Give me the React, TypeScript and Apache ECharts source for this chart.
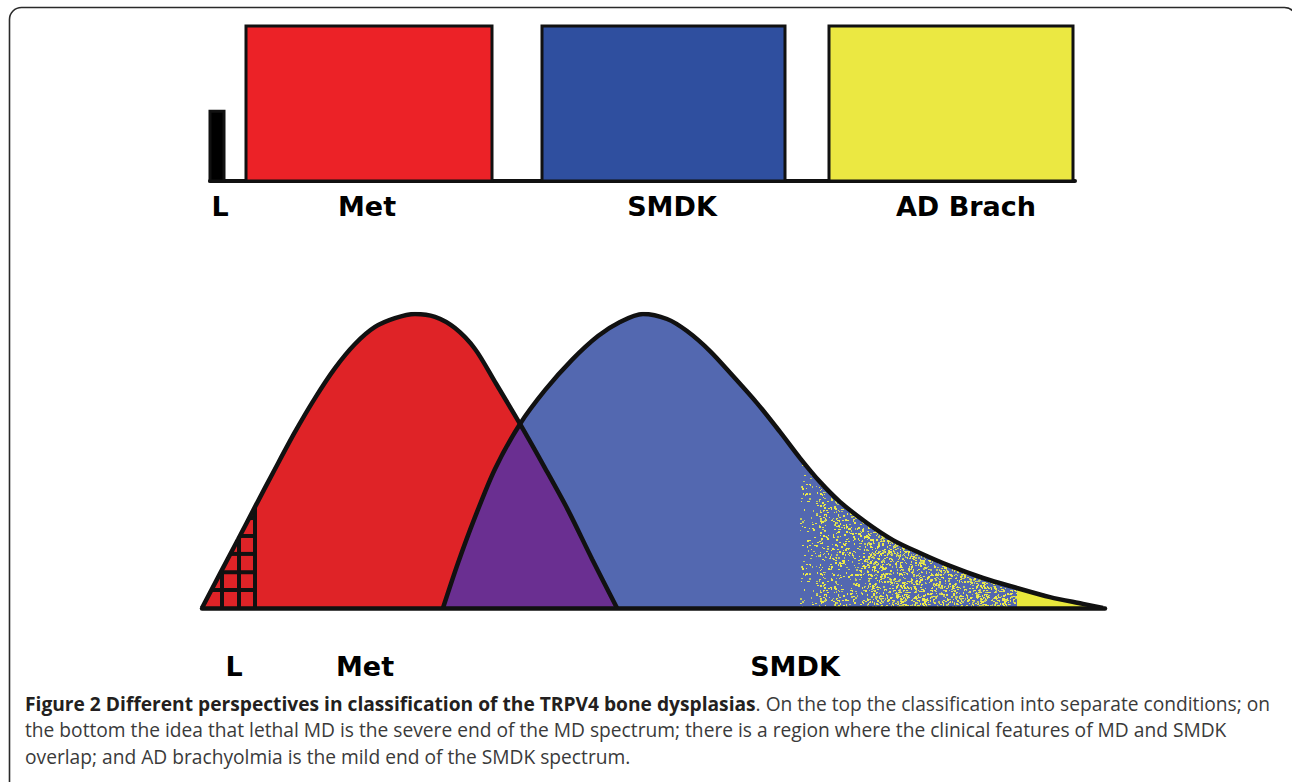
import React, { useEffect, useRef } from "react";
import * as echarts from "echarts";

// ---- Top panel: separate conditions (x in severity units, y in relative height) ----
const topCategories = ["L", "Met", "SMDK", "AD Brach"];
const topStart = [0, 3.6, 33.2, 61.9];
const topEnd = [1.4, 28.2, 57.5, 86.3];
const topHeight = [45, 100, 100, 100];
const topLabelX = [1.0, 15.7, 46.2, 75.6];
const topColors = ["#000000", "#EC2227", "#2F4F9F", "#EBE842"];

// ---- Bottom panel: spectra ----
const bottomLabels = ["L", "Met", "SMDK"];
const bottomLabelX = [3.2, 16.3, 59.3];

const metX = [0, 1.8, 3.6, 5.3, 7.3, 9.3, 11.3, 13.3, 15.3, 17.3, 19.3, 21.3, 23.3, 25.3, 27.3, 29.3, 31.8, 34.3, 36.6, 39.0, 41.5];
const metY = [0, 11.7, 23.3, 34.4, 47.3, 59.9, 71.4, 81.6, 89.8, 95.6, 98.6, 100, 99.0, 95.2, 88.1, 76.9, 62.6, 47.6, 33.3, 16.7, 0];

const smdkX = [24.1, 25.6, 27.3, 29.3, 31.8, 34.3, 37.0, 39.6, 41.8, 44.1, 46.5, 48.5, 50.8, 53.1, 55.5, 57.8, 59.8, 61.8, 63.8, 66.5, 69.1, 71.8, 74.8, 78.1, 81.5, 84.8, 88.1, 90.1];
const smdkY = [0, 15.3, 30.9, 47.3, 62.6, 74.1, 84.4, 92.5, 97.3, 100, 98.3, 94.2, 87.4, 78.9, 69.7, 59.9, 51.0, 42.9, 36.1, 28.9, 23.1, 18.7, 14.3, 10.2, 6.8, 3.7, 1.4, 0];

const overlapCrossX = 31.8; // where the MD and SMDK curves meet
const lethalEndX = 5.3; // end of the lethal (hatched) region
const hatchColumns = [2.0, 3.7, 5.3];
const hatchRows = [6.1, 12.2, 18.4, 24.5, 30.6];
const brachSpeckleStart = 59.8;
const brachMidStart = 61.8;
const brachDenseStart = 66.5;
const brachSolidStart = 81.5;

const captionBold = "Figure 2 Different perspectives in classification of the TRPV4 bone dysplasias";
const captionLine1 = ". On the top the classification into separate conditions; on";
const captionLine2 = "the bottom the idea that lethal MD is the severe end of the MD spectrum; there is a region where the clinical features of MD and SMDK";
const captionLine3 = "overlap; and AD brachyolmia is the mild end of the SMDK spectrum.";

const pairs = (xs: number[], ys: number[]) => xs.map((x, i) => [x, ys[i]]);
const rangePairs = (xs: number[], ys: number[], a: number, b: number) =>
  pairs(xs, ys).filter((p) => p[0] >= a - 1e-9 && p[0] <= b + 1e-9);

function curveAt(xs: number[], ys: number[], x: number) {
  for (let i = 0; i < xs.length - 1; i++) {
    if (x >= xs[i] && x <= xs[i + 1]) {
      const t = (x - xs[i]) / (xs[i + 1] - xs[i]);
      return ys[i] + t * (ys[i + 1] - ys[i]);
    }
  }
  return 0;
}
function risingXAt(xs: number[], ys: number[], h: number) {
  for (let i = 0; i < xs.length - 1; i++) {
    if (ys[i + 1] < ys[i]) break;
    if (h >= ys[i] && h <= ys[i + 1]) {
      const t = (h - ys[i]) / (ys[i + 1] - ys[i]);
      return xs[i] + t * (xs[i + 1] - xs[i]);
    }
  }
  return xs[0];
}

function makeSpeckle(seed: number, count: number, size: number) {
  const c = document.createElement("canvas");
  c.width = size;
  c.height = size;
  const ctx = c.getContext("2d")!;
  let s = seed >>> 0;
  const next = () => {
    s = (Math.imul(s, 1664525) + 1013904223) >>> 0;
    return s / 4294967296;
  };
  for (let i = 0; i < count; i++) {
    const x = Math.floor(next() * size);
    const y = Math.floor(next() * size);
    ctx.fillStyle = next() < 0.7 ? "#ECEA48" : "#C3CB62";
    ctx.fillRect(x, y, next() < 0.5 ? 1 : 2, next() < 0.6 ? 1 : 2);
  }
  return c;
}

export default function App() {
  const ref = useRef<HTMLDivElement>(null);

  useEffect(() => {
    if (!ref.current) return;
    const chart = echarts.init(ref.current, undefined, { renderer: "svg" });

    const speckleFaint = makeSpeckle(4242, 260, 80);
    const speckleSparse = makeSpeckle(12345, 360, 80);
    const speckleDense = makeSpeckle(98765, 640, 80);

    const labelFont = 'bold 27px "DejaVu Sans"';
    const curveSmooth = 0.3;

    const overlapPolygon = [
      ...rangePairs(smdkX, smdkY, smdkX[0], overlapCrossX),
      ...rangePairs(metX, metY, overlapCrossX, metX[metX.length - 1]).slice(1),
    ];

    const speckleLayer = (from: number, img: HTMLCanvasElement, z: number) => ({
      type: "line", xAxisIndex: 1, yAxisIndex: 1, z,
      data: rangePairs(smdkX, smdkY, from, brachSolidStart),
      smooth: curveSmooth, showSymbol: false, lineStyle: { width: 0 },
      areaStyle: { color: { image: img, repeat: "repeat" }, opacity: 1 },
    });

    const option: any = {
      animation: false,
      backgroundColor: "#ffffff",
      grid: [
        { left: 210, top: 26, width: 865, height: 155 },
        { left: 202, top: 314, width: 903, height: 294 },
      ],
      xAxis: [
        {
          gridIndex: 0, type: "value", min: 0, max: 86.5,
          axisLine: { show: true, onZero: false, lineStyle: { color: "#111", width: 4 } },
          axisTick: { show: false }, axisLabel: { show: false }, splitLine: { show: false },
        },
        {
          gridIndex: 1, type: "value", min: 0, max: 90.3, z: 20,
          axisLine: { show: true, onZero: false, lineStyle: { color: "#111", width: 4.5 } },
          axisTick: { show: false }, axisLabel: { show: false }, splitLine: { show: false },
        },
      ],
      yAxis: [
        { gridIndex: 0, type: "value", min: 0, max: 100, show: false },
        { gridIndex: 1, type: "value", min: 0, max: 100, show: false },
      ],
      series: [
        // top bars
        {
          type: "custom", xAxisIndex: 0, yAxisIndex: 0, z: 3,
          data: topCategories.map((c, i) => [topStart[i], topEnd[i], topHeight[i], c]),
          encode: { x: [0, 1], y: 2 },
          renderItem: (params: any, api: any) => {
            const p0 = api.coord([api.value(0), api.value(2)]);
            const p1 = api.coord([api.value(1), 0]);
            return {
              type: "rect",
              shape: { x: p0[0], y: p0[1], width: p1[0] - p0[0], height: p1[1] - p0[1] },
              style: { fill: topColors[params.dataIndex], stroke: "#111", lineWidth: 3 },
            };
          },
        },
        // top labels
        {
          type: "custom", xAxisIndex: 0, yAxisIndex: 0, z: 3,
          data: topLabelX.map((x) => [x, 0]),
          encode: { x: 0, y: 1 },
          renderItem: (params: any, api: any) => {
            const p = api.coord([api.value(0), 0]);
            return {
              type: "text", x: p[0], y: p[1] + 25,
              style: { text: topCategories[params.dataIndex], fill: "#000", font: labelFont, align: "center", verticalAlign: "middle" },
            };
          },
        },
        // Met area
        {
          type: "line", xAxisIndex: 1, yAxisIndex: 1, data: pairs(metX, metY), z: 2,
          smooth: curveSmooth, showSymbol: false, lineStyle: { width: 0 },
          areaStyle: { color: "#DF2327", opacity: 1 },
        },
        // SMDK area
        {
          type: "line", xAxisIndex: 1, yAxisIndex: 1, data: pairs(smdkX, smdkY), z: 3,
          smooth: curveSmooth, showSymbol: false, lineStyle: { width: 0 },
          areaStyle: { color: "#5368B0", opacity: 1 },
        },
        // overlap region
        {
          type: "custom", xAxisIndex: 1, yAxisIndex: 1, z: 4,
          data: [[overlapCrossX, 50]], encode: { x: 0, y: 1 },
          renderItem: (_p: any, api: any) => ({
            type: "polygon",
            shape: { points: overlapPolygon.map((pt) => api.coord(pt)) },
            style: { fill: "#6A2F91" },
          }),
        },
        // AD brachyolmia speckle, increasing density towards the mild end
        speckleLayer(brachSpeckleStart, speckleFaint, 5),
        speckleLayer(brachMidStart, speckleSparse, 6),
        speckleLayer(brachDenseStart, speckleDense, 7),
        // AD brachyolmia solid tail
        {
          type: "line", xAxisIndex: 1, yAxisIndex: 1, z: 8,
          data: rangePairs(smdkX, smdkY, brachSolidStart, smdkX[smdkX.length - 1]),
          smooth: curveSmooth, showSymbol: false, lineStyle: { width: 0 },
          areaStyle: { color: "#E9E83C", opacity: 1 },
        },
        // lethal hatch
        {
          type: "custom", xAxisIndex: 1, yAxisIndex: 1, z: 9,
          data: [[lethalEndX, 10]], encode: { x: 0, y: 1 },
          renderItem: (_p: any, api: any) => {
            const children: any[] = [];
            hatchColumns.forEach((x) => {
              const a = api.coord([x, 0]);
              const b = api.coord([x, curveAt(metX, metY, x)]);
              children.push({ type: "line", shape: { x1: a[0], y1: a[1], x2: b[0], y2: b[1] }, style: { stroke: "#111", lineWidth: 4 } });
            });
            hatchRows.forEach((h) => {
              const a = api.coord([risingXAt(metX, metY, h), h]);
              const b = api.coord([lethalEndX, h]);
              children.push({ type: "line", shape: { x1: a[0], y1: a[1], x2: b[0], y2: b[1] }, style: { stroke: "#111", lineWidth: 4 } });
            });
            return { type: "group", children };
          },
        },
        // outlines
        {
          type: "line", xAxisIndex: 1, yAxisIndex: 1, data: pairs(metX, metY), z: 10,
          smooth: curveSmooth, showSymbol: false, lineStyle: { color: "#111", width: 4.5 },
        },
        {
          type: "line", xAxisIndex: 1, yAxisIndex: 1, data: pairs(smdkX, smdkY), z: 10,
          smooth: curveSmooth, showSymbol: false, lineStyle: { color: "#111", width: 4.5 },
        },
        // bottom labels
        {
          type: "custom", xAxisIndex: 1, yAxisIndex: 1, z: 10,
          data: bottomLabelX.map((x) => [x, 0]), encode: { x: 0, y: 1 },
          renderItem: (params: any, api: any) => {
            const p = api.coord([api.value(0), 0]);
            return {
              type: "text", x: p[0], y: p[1] + 58,
              style: { text: bottomLabels[params.dataIndex], fill: "#000", font: labelFont, align: "center", verticalAlign: "middle" },
            };
          },
        },
      ],
      graphic: [
        {
          type: "rect", silent: true,
          shape: { x: 9.5, y: 7.5, width: 1287, height: 900, r: 12 },
          style: { fill: "none", stroke: "#2a2a2a", lineWidth: 1.6 },
        },
        {
          type: "text", x: 25, y: 703,
          style: {
            text: "{b|" + captionBold + "}{r|" + captionLine1 + "}",
            verticalAlign: "middle", align: "left",
            rich: {
              b: { fontFamily: '"Open Sans"', fontSize: 19.2, fontWeight: "bold", fill: "#231F20" },
              r: { fontFamily: '"Open Sans"', fontSize: 19.2, fill: "#3a3a3a" },
            },
          },
        },
        {
          type: "text", x: 25, y: 729.5,
          style: { text: captionLine2, font: '19.2px "Open Sans"', fill: "#3a3a3a", verticalAlign: "middle", align: "left" },
        },
        {
          type: "text", x: 25, y: 756,
          style: { text: captionLine3, font: '19.2px "Open Sans"', fill: "#3a3a3a", verticalAlign: "middle", align: "left" },
        },
      ],
    };

    chart.setOption(option);
    return () => chart.dispose();
  }, []);

  return (
    <div
      ref={ref}
      style={{ position: "absolute", left: 0, top: 0, width: 1292, height: 782, background: "#fff" }}
    />
  );
}
